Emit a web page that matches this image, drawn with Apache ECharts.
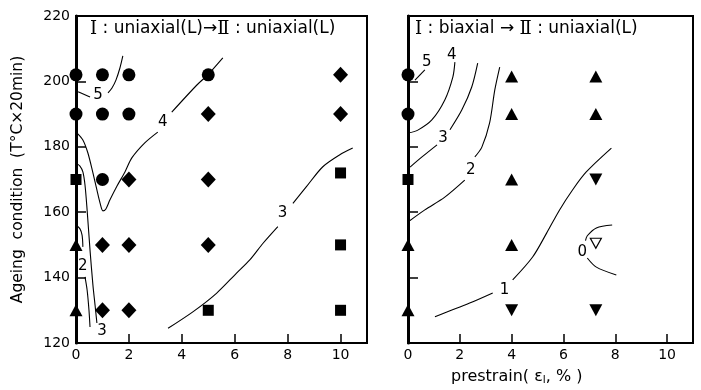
<!DOCTYPE html>
<html><head><meta charset="utf-8">
<script src="https://cdn.jsdelivr.net/npm/echarts@6/dist/echarts.min.js"></script>
<style>html,body{margin:0;padding:0;background:#fff}#c{width:701px;height:390px}</style>
</head><body><div id="c"></div>
<script>
// ---- data ----
const xTicks = [0, 2, 4, 6, 8, 10];
const yTicks = [120, 140, 160, 180, 200, 220];
// left panel: I uniaxial(L) -> II uniaxial(L)
const L_circle = [[0,202],[1,202],[2,202],[5,202],[0,190],[1,190],[2,190],[1,170]];
const L_diamond = [[10,202],[5,190],[10,190],[2,170],[5,170],[1,150],[2,150],[5,150],[1,130],[2,130]];
const L_square = [[0,170],[10,172],[10,150],[5,130],[10,130]];
const L_triUp = [[0,150],[0,130]];
// right panel: I biaxial -> II uniaxial(L)
const R_circle = [[0,202],[0,190]];
const R_square = [[0,170]];
const R_triUp = [[0,150],[0,130],[4,201.5],[4,190],[4,170],[4,150],[7.25,201.5],[7.25,190]];
const R_triDown = [[7.25,170],[4,130],[7.25,130]];
const R_openTriDown = [[7.25,150.5]];
// contour lines (segments)
const L_contours = [
  [[1.77,207.8],[1.66,204.1],[1.51,200.4],[1.36,198],[1.21,196.5]],
  [[0.08,196.8],[0.53,195.2]],
  [[0.04,184.2],[0.26,182.1],[0.45,178.1],[0.64,172.0],[0.79,166.8],[0.91,162.8],[1.02,160.4],[1.13,161.0],[1.28,163.7],[1.55,168.0],[1.85,172.3],[2.11,176.6],[2.60,181.2],[3.09,184.5]],
  [[3.62,190.6],[4.57,198.9],[4.98,202.0],[5.55,207.2]],
  [[0,175.0],[0.15,174.1],[0.26,172.3],[0.34,168.3],[0.42,160.7],[0.53,148.4],[0.64,137.7],[0.72,131.6],[0.79,126.1]],
  [[0,156.1],[0.15,154.9],[0.23,153.0],[0.26,149.4]],
  [[0.34,140.2],[0.42,136.2],[0.49,130.1],[0.53,124.9]],
  [[3.48,124.5],[4.43,129.6],[5.31,135.2],[6.06,141.3],[6.57,145.4],[7.07,150.5],[7.63,155.6]],
  [[8.20,162.7],[8.71,167.8],[9.33,173.9],[9.96,177.5],[10.46,179.6]]
];
const L_labels = [['5',0.83,195.8],['4',3.28,187.6],['3',0.98,123.7],['2',0.26,143.5],['3',7.81,159.8]];
const R_contours = [
  [[0.65,203.5],[0.27,200.4]],
  [[1.81,205.9],[1.73,201.3],[1.42,194.3],[0.92,188.2],[0.38,185.1],[0,184.2]],
  [[2.69,205.6],[2.46,198.3],[2.08,191.3],[1.62,185.2]],
  [[1.12,180.6],[0.54,176.9],[0.08,173.8]],
  [[3.54,204.4],[3.35,197.4],[3.15,187.3],[2.85,179.9],[2.58,176.9]],
  [[2.19,169.8],[1.42,164.6],[0.65,160.7],[0,157.0]],
  [[7.85,179.6],[6.88,172.3],[6.35,166.8],[5.85,160.7],[5.35,153.6],[4.81,146.3],[4.04,139.3]],
  [[3.27,135.3],[2.38,132.2],[1.04,128.0]],
  [[7.88,156.1],[7.27,155.2],[6.92,152.8],[6.85,151.3]],
  [[6.92,146],[7.27,143.2],[8.04,140.8]]
];
const R_labels = [['5',0.72,206.0],['4',1.69,208.1],['3',1.35,182.7],['2',2.42,172.9],['1',3.73,136.2],['0',6.73,147.8]];

// ---- chart ----
const chart = echarts.init(document.getElementById('c'));
const FONT = 'DejaVu Sans';
function xAx(gi, showLabels){
  return {gridIndex: gi, type:'value', min:0, max:11, interval:2,
    axisLine:{show:true, onZero:false, lineStyle:{color:'#000', width:2}},
    axisTick:{show:true, inside:true, length:9, lineStyle:{color:'#000', width:1.5}},
    axisLabel:{show:showLabels, color:'#000', fontSize:14, fontFamily:FONT, margin:5,
      formatter:v=> xTicks.includes(v) ? String(v) : ''},
    splitLine:{show:false}};
}
function yAx(gi, showLabels){
  return {gridIndex: gi, type:'value', min:120, max:220, interval:20,
    axisLine:{show:true, onZero:false, lineStyle:{color:'#000', width:3}},
    axisTick:{show:true, inside:true, length:10, lineStyle:{color:'#000', width:1.5}},
    axisLabel:{show:showLabels, color:'#000', fontSize:14, fontFamily:FONT, margin:6,
      formatter:v=> yTicks.includes(v) ? String(v) : ''},
    splitLine:{show:false},
    name: showLabels ? 'Ageing  condition  (T°C×20min)' : '',
    nameLocation:'middle', nameGap:50, nameRotate:90,
    nameTextStyle:{color:'#000', fontSize:15.5, fontFamily:FONT}};
}
const series = [];
function scatter(gi, data, symbol, size, opts){
  series.push(Object.assign({type:'scatter', xAxisIndex:gi, yAxisIndex:gi, data:data,
    symbol:symbol, symbolSize:size, itemStyle:{color:'#000', opacity:1}, z:5, silent:true}, opts||{}));
}
function lines(gi, segs){
  segs.forEach(s=>series.push({type:'line', xAxisIndex:gi, yAxisIndex:gi, data:s,
    showSymbol:false, symbol:'none', smooth:0.3, lineStyle:{color:'#000', width:1.1}, z:3, silent:true}));
}
function labels(gi, labs){
  series.push({type:'scatter', xAxisIndex:gi, yAxisIndex:gi, symbolSize:0, z:6, silent:true,
    itemStyle:{opacity:1, color:'#000'},
    data: labs.map(l=>({value:[l[1], l[2]], name:l[0]})),
    label:{show:true, position:'inside', formatter:p=>p.name, color:'#000', fontSize:15, fontFamily:FONT}});
}
scatter(0, L_circle, 'circle', 13);
scatter(0, L_diamond, 'diamond', [15,16]);
scatter(0, L_square, 'rect', 11);
scatter(0, L_triUp, 'triangle', [13,12]);
lines(0, L_contours);
labels(0, L_labels);
scatter(1, R_circle, 'circle', 13);
scatter(1, R_square, 'rect', 11);
scatter(1, R_triUp, 'triangle', [13,12]);
scatter(1, R_triDown, 'triangle', [13,12], {symbolRotate:180});
scatter(1, R_openTriDown, 'triangle', [11,10], {symbolRotate:180, itemStyle:{color:'#fff', borderColor:'#000', borderWidth:1.2, opacity:1}});
lines(1, R_contours);
labels(1, R_labels);

const titleRich = {
  r:{fontSize:18, fontFamily:'DejaVu Serif', fill:'#000'},
  a:{fontSize:17, fontFamily:FONT, fill:'#000'}
};
chart.setOption({
  animation:false,
  backgroundColor:'#fff',
  grid:[
    {left:76, top:16, width:291, height:327, show:true, borderColor:'#000', borderWidth:2, backgroundColor:'transparent'},
    {left:408, top:16, width:285, height:327, show:true, borderColor:'#000', borderWidth:2, backgroundColor:'transparent'}
  ],
  xAxis:[xAx(0,true), xAx(1,true)],
  yAxis:[yAx(0,true), yAx(1,false)],
  series: series,
  graphic:[
    {type:'text', left:90, top:20, style:{text:'{r|Ⅰ}{a| : uniaxial(L)→}{r|Ⅱ}{a| : uniaxial(L)}', rich:titleRich}},
    {type:'text', left:415, top:20, style:{text:'{r|Ⅰ}{a| : biaxial → }{r|Ⅱ}{a| : uniaxial(L)}', rich:titleRich}},
    {type:'text', left:451, top:369, style:{
      text:'{a|prestrain( ε}{s|I}{a|, % )}',
      rich:{a:{fontSize:16, fontFamily:FONT, fill:'#000'}, s:{fontSize:10, fontFamily:FONT, fill:'#000', verticalAlign:'bottom', padding:[7,0,0,0]}}}}
  ]
});
</script></body></html>
